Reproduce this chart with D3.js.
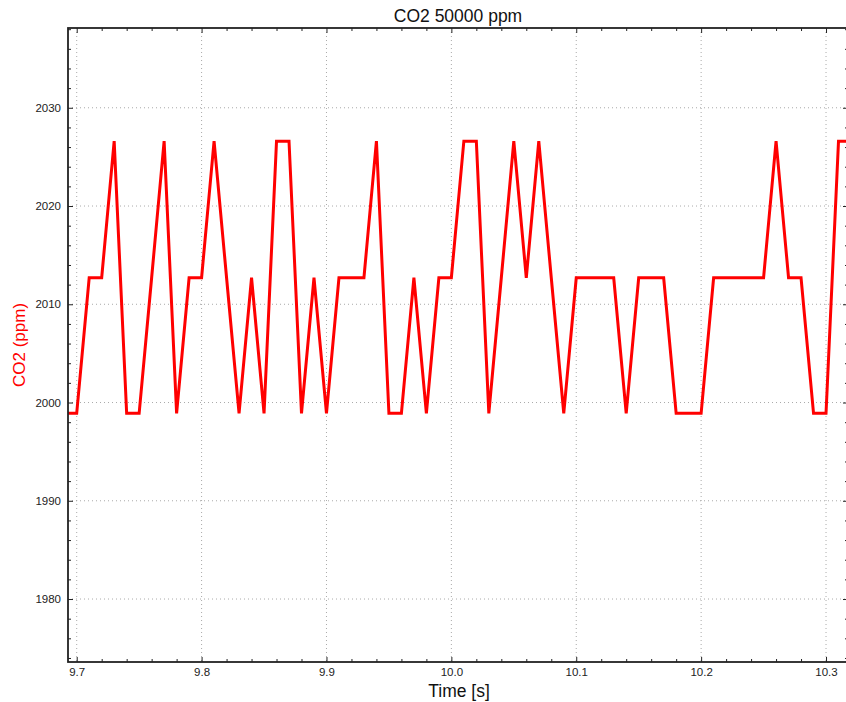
<!DOCTYPE html>
<html>
<head>
<meta charset="utf-8">
<script src="https://cdn.jsdelivr.net/npm/d3@7"></script>
<style>
  body { margin: 0; background: #fff; }
  text { font-family: "Liberation Sans", Arial, sans-serif; }
</style>
</head>
<body>
<div id="chart-area"></div>
<script>
// CO2 readings sampled every 0.01 s
const times = [
  9.69, 9.70, 9.71, 9.72, 9.73, 9.74, 9.75, 9.76, 9.77, 9.78,
  9.79, 9.80, 9.81, 9.82, 9.83, 9.84, 9.85, 9.86, 9.87, 9.88,
  9.89, 9.90, 9.91, 9.92, 9.93, 9.94, 9.95, 9.96, 9.97, 9.98,
  9.99, 10.00, 10.01, 10.02, 10.03, 10.04, 10.05, 10.06, 10.07, 10.08,
  10.09, 10.10, 10.11, 10.12, 10.13, 10.14, 10.15, 10.16, 10.17, 10.18,
  10.19, 10.20, 10.21, 10.22, 10.23, 10.24, 10.25, 10.26, 10.27, 10.28,
  10.29, 10.30, 10.31, 10.32
]
const co2 = [
  1998.9, 1998.9, 2012.7, 2012.7, 2026.6, 1998.9, 1998.9, 2012.7, 2026.6, 1998.9,
  2012.7, 2012.7, 2026.6, 2012.7, 1998.9, 2012.7, 1998.9, 2026.6, 2026.6, 1998.9,
  2012.7, 1998.9, 2012.7, 2012.7, 2012.7, 2026.6, 1998.9, 1998.9, 2012.7, 1998.9,
  2012.7, 2012.7, 2026.6, 2026.6, 1998.9, 2012.7, 2026.6, 2012.7, 2026.6, 2012.7,
  1998.9, 2012.7, 2012.7, 2012.7, 2012.7, 1998.9, 2012.7, 2012.7, 2012.7, 1998.9,
  1998.9, 1998.9, 2012.7, 2012.7, 2012.7, 2012.7, 2012.7, 2026.6, 2012.7, 2012.7,
  1998.9, 1998.9, 2026.6, 2026.6
]
const xTicks = [9.7, 9.8, 9.9, 10.0, 10.1, 10.2, 10.3]
const yTicks = [1980, 1990, 2000, 2010, 2020, 2030]

const margin = { left: 68, right: -2, top: 28, bottom: 40 }
const width = 846 - margin.left - margin.right
const height = 702 - margin.top - margin.bottom

const svg = d3.select("#chart-area").append("svg")
  .attr("width", 846)
  .attr("height", 702)

const g = svg.append("g")
  .attr("transform", `translate(${margin.left}, ${margin.top})`)

const x = d3.scaleLinear()
  .domain([9.69303, 10.3176])
  .range([0, width])

const y = d3.scaleLinear()
  .domain([1973.59, 2038.12])
  .range([height, 0])

// grid
g.append("g").selectAll("line")
  .data(xTicks)
  .enter().append("line")
  .attr("x1", d => x(d)).attr("x2", d => x(d))
  .attr("y1", 0).attr("y2", height)
  .attr("stroke", "#aaa")
  .attr("stroke-width", 1)
  .attr("stroke-dasharray", "1,3")

g.append("g").selectAll("line")
  .data(yTicks)
  .enter().append("line")
  .attr("x1", 0).attr("x2", width)
  .attr("y1", d => y(d)).attr("y2", d => y(d))
  .attr("stroke", "#aaa")
  .attr("stroke-width", 1)
  .attr("stroke-dasharray", "1,3")

// minor ticks
const xMinor = d3.range(9.70, 10.32, 0.02).filter(v => Math.abs(v * 10 - Math.round(v * 10)) > 1e-6)
const yMinor = d3.range(1974, 2038.5, 2).filter(v => v % 10 !== 0)

function styleAxis(sel) {
  sel.select(".domain").remove()
  sel.selectAll("line").attr("stroke", "#222")
  sel.selectAll("text")
    .attr("font-size", "11.5px")
    .attr("fill", "#222")
}

// bottom
g.append("g")
  .attr("transform", `translate(0, ${height})`)
  .call(d3.axisBottom(x).tickValues(xMinor).tickSize(-3).tickFormat(""))
  .call(styleAxis)
g.append("g")
  .attr("transform", `translate(0, ${height})`)
  .call(d3.axisBottom(x).tickValues(xTicks).tickSize(-5).tickPadding(6).tickFormat(d3.format(".1f")))
  .call(styleAxis)

// top
g.append("g")
  .call(d3.axisTop(x).tickValues(xMinor).tickSize(-3).tickFormat(""))
  .call(styleAxis)
g.append("g")
  .call(d3.axisTop(x).tickValues(xTicks).tickSize(-5).tickFormat(""))
  .call(styleAxis)

// left
g.append("g")
  .call(d3.axisLeft(y).tickValues(yMinor).tickSize(-3).tickFormat(""))
  .call(styleAxis)
g.append("g")
  .call(d3.axisLeft(y).tickValues(yTicks).tickSize(-5).tickPadding(7).tickFormat(d3.format("d")))
  .call(styleAxis)

// right
g.append("g")
  .attr("transform", `translate(${width}, 0)`)
  .call(d3.axisRight(y).tickValues(yMinor).tickSize(-3).tickFormat(""))
  .call(styleAxis)
g.append("g")
  .attr("transform", `translate(${width}, 0)`)
  .call(d3.axisRight(y).tickValues(yTicks).tickSize(-5).tickFormat(""))
  .call(styleAxis)

// data line
svg.append("defs").append("clipPath")
  .attr("id", "plot-clip")
  .append("rect")
  .attr("width", width)
  .attr("height", height)

const line = d3.line()
  .x((d, i) => x(times[i]))
  .y(d => y(d))

g.append("path")
  .datum(co2)
  .attr("clip-path", "url(#plot-clip)")
  .attr("fill", "none")
  .attr("stroke", "#ff0000")
  .attr("stroke-width", 3)
  .attr("stroke-linejoin", "miter")
  .attr("d", line)

// frame
g.append("rect")
  .attr("width", width)
  .attr("height", height)
  .attr("fill", "none")
  .attr("stroke", "#222")
  .attr("stroke-width", 1.8)

// labels
svg.append("text")
  .attr("x", 458)
  .attr("y", 22)
  .attr("font-size", "17.5px")
  .attr("text-anchor", "middle")
  .attr("fill", "#111")
  .text("CO2 50000 ppm")

svg.append("text")
  .attr("x", 459)
  .attr("y", 697)
  .attr("font-size", "17.5px")
  .attr("text-anchor", "middle")
  .attr("fill", "#111")
  .text("Time [s]")

svg.append("text")
  .attr("transform", "translate(25, 345) rotate(-90)")
  .attr("font-size", "17px")
  .attr("text-anchor", "middle")
  .attr("fill", "#ff0000")
  .text("CO2 (ppm)")
</script>
</body>
</html>
